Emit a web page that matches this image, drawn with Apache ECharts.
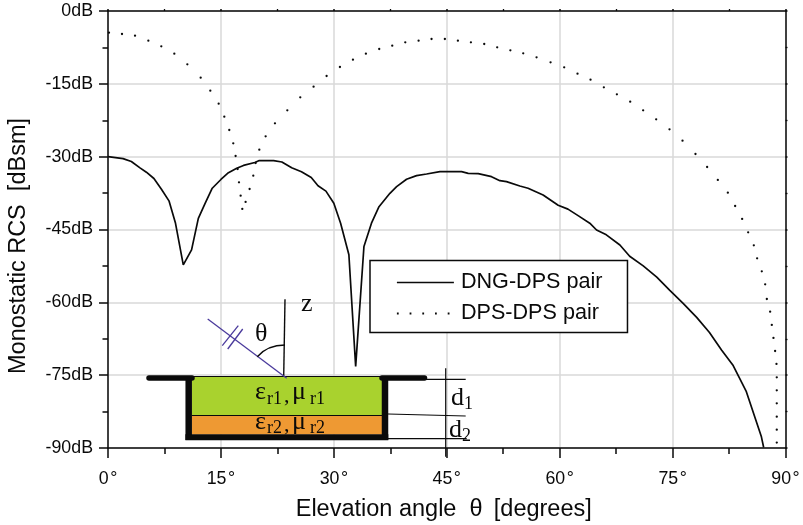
<!DOCTYPE html>
<html><head><meta charset="utf-8">
<style>html,body{margin:0;padding:0;background:#fff}#c{width:803px;height:525px}</style>
<script src="https://cdn.jsdelivr.net/npm/echarts@6/dist/echarts.min.js"></script>
</head><body><div id="c"></div>
<script>
const seriesNames = ['DNG-DPS pair', 'DPS-DPS pair'];
const dngDps = [[0,-30],[2,-30.4],[3.1,-31],[4.25,-32.3],[5.1,-33.2],[6.1,-34.5],[7.1,-36.7],[8.1,-39.1],[8.95,-43.6],[10,-52.3],[11.1,-49.2],[12,-42.7],[12.9,-39.6],[13.85,-36.5],[15,-34.7],[16,-33.3],[17.1,-32.4],[18,-31.8],[19.5,-31.2],[20.1,-30.8],[22,-30.8],[23.1,-31.1],[24.4,-32.3],[25.7,-33.1],[27,-34.3],[27.9,-36],[28.95,-37.1],[30,-39.6],[30.9,-43.7],[32,-50.2],[32.9,-73.2],[34,-48.5],[35,-43.7],[36,-40.3],[37.45,-37.55],[38.34,-36.17],[39.66,-34.66],[40.99,-33.91],[42.32,-33.57],[44.09,-33.09],[46.97,-33.09],[47.85,-33.43],[49.18,-33.5],[50.95,-34.12],[52.06,-34.94],[52.94,-35.15],[54.71,-36.04],[55.8,-36.5],[57.8,-37.9],[59.8,-40],[61.1,-40.8],[62.5,-42.2],[64,-43.7],[64.9,-45.1],[66.2,-46.1],[68,-48.2],[69.3,-50.5],[71.1,-52.5],[72.9,-54.8],[74.6,-57.5],[76.4,-60.2],[78.2,-63.1],[79.9,-66.2],[81.5,-69.8],[83,-72.9],[84.8,-78.4],[86.8,-87.7],[87.1,-89.9]];
const dpsDps = [[0.13,-4.46],[1.86,-4.74],[3.59,-5.08],[5.36,-6.11],[7.08,-7.28],[8.81,-8.79],[10.54,-10.98],[12.31,-13.73],[13.59,-16.41],[14.7,-19.08],[15.45,-21.76],[16.11,-24.51],[16.64,-27.25],[16.95,-29.86],[17.22,-32.54],[17.4,-35.28],[17.62,-38.03],[17.84,-40.77],[18.28,-39.33],[18.81,-36.66],[19.3,-33.91],[19.61,-31.3],[20.1,-28.56],[20.94,-25.81],[22.18,-23.13],[23.82,-20.46],[25.54,-17.78],[27.31,-15.58],[29.04,-13.39],[30.81,-11.53],[32.54,-10.02],[34.26,-8.79],[36.03,-7.83],[37.76,-7.14],[39.49,-6.45],[41.26,-6.11],[42.98,-5.77],[44.75,-5.77],[46.48,-6.11],[48.21,-6.45],[49.98,-6.8],[51.7,-7.48],[53.45,-8.1],[55.16,-8.72],[56.93,-9.54],[58.79,-10.57],[60.6,-11.6],[62.37,-12.9],[64.1,-14.14],[65.87,-15.72],[67.6,-17.16],[69.37,-18.67],[71.09,-20.46],[72.82,-22.31],[74.59,-24.37],[76.32,-26.7],[78.04,-29.45],[79.59,-32.13],[81.01,-34.8],[82.34,-37.41],[83.31,-40.16],[84.24,-42.83],[85.04,-45.58],[85.79,-48.26],[86.23,-50.93],[86.85,-53.61],[87.3,-56.29],[87.52,-59.31],[87.96,-61.92],[88.18,-64.66],[88.4,-67.34],[88.62,-70.02],[88.8,-72.69],[88.84,-75.44],[88.84,-78.12],[88.84,-80.79],[88.84,-83.54],[88.84,-86.22],[88.84,-88.89]];
const xTitle = 'Elevation angle  θ \u2009[degrees]';
const yTitle = 'Monostatic RCS  [dBsm]';

const SANS = '"Liberation Sans", Arial, sans-serif';
const SERIF = '"Liberation Serif", "Times New Roman", serif';
const INK = '#0a0a0a';
const line = (x1,y1,x2,y2,w,c,cap) => ({type:'line',z:50,shape:{x1,y1,x2,y2},style:{stroke:c||INK,lineWidth:w||1.3,lineCap:cap||'butt'}});
const txt = (x,y,t,s) => ({type:'text',z:52,x,y,style:{text:t,font:s+'px '+SERIF,fill:INK,textAlign:'left',textVerticalAlign:'middle'}});
const rect = (x,y,width,height,c) => ({type:'rect',z:49,shape:{x,y,width,height},style:{fill:c}});

const inset = [
  rect(192,376.5,190,39,'#A9D22E'),
  rect(192,415.5,190,19,'#EE9933'),
  line(192,376.5,382,376.5,1.2),
  line(192,415.5,382,415.5,1.2),
  line(188.7,376,188.7,440,6.5),
  line(385,376,385,440,6.5),
  line(185.4,437.2,388.3,437.2,6),
  line(149,378,192,378,5.5,INK,'round'),
  line(382,378,424.5,378,5.5,INK,'round'),
  line(285,299.3,283.7,376.7,1.4),
  line(207.7,319,286.7,378.3,1.3,'#4A3A9C'),
  line(222.3,345.7,238.3,325.7,1.3,'#4A3A9C'),
  line(227.7,349,242.7,329,1.3,'#4A3A9C'),
  {type:'bezierCurve',z:50,shape:{x1:257.3,y1:356.7,cpx1:264,cpx2:272,cpy1:349,cpy2:345,x2:285,y2:345},style:{stroke:INK,fill:null,lineWidth:1.3}},
  line(445.7,368.3,445.7,456.7,1.2),
  line(388,379.3,465.7,379.3,1.2),
  line(388,414,465.7,416,1.2),
  line(388,438.7,466.7,438.7,1.2),
  txt(255,334,'θ',26), txt(301,304,'z',26),
  txt(255,392.5,'ε',26), txt(267,399,'r1',18), txt(284,396,',',22), txt(292,392.5,'μ',26), txt(310,399,'r1',18),
  txt(255,422.5,'ε',26), txt(267,428,'r2',18), txt(284,425,',',22), txt(292,422.5,'μ',26), txt(310,428,'r2',18),
  txt(451,398,'d',26), txt(464,404,'1',18),
  txt(449,430,'d',26), txt(462,436,'2',18)
];

const baseAxis = (position, extra) => Object.assign({
  type:'value', position, min:0, max:90, interval:15,
  axisLine:{show:true,onZero:false,lineStyle:{color:INK,width:1.5}},
  axisTick:{show:true,inside:false,length:2,lineStyle:{color:INK,width:1.5}},
  minorTick:{show:true,splitNumber:2,length:2,lineStyle:{color:INK,width:1.3}},
  axisLabel:{show:false}, splitLine:{show:false}
}, extra);

const chart = echarts.init(document.getElementById('c'));
chart.setOption({
  animation:false,
  backgroundColor:'#fff',
  grid:{left:108,right:17.5,top:11,bottom:77,containLabel:false,outerBoundsMode:'none'},
  legend:{
    show:true, orient:'vertical', left:370, top:260.5,
    padding:[11,25,8,26], itemGap:9, itemWidth:57, itemHeight:20,
    backgroundColor:'#fff', borderColor:INK, borderWidth:1.5, borderRadius:0,
    textStyle:{fontFamily:SANS,fontSize:21.6,color:INK,padding:[0,0,0,2]},
    data:[
      {name:seriesNames[0],itemStyle:{opacity:0},lineStyle:{color:INK,width:1.7,opacity:1}},
      {name:seriesNames[1],itemStyle:{opacity:0},lineStyle:{color:INK,width:1.8,type:[1.8,10.9],opacity:1}}
    ]
  },
  xAxis:[
    baseAxis('bottom',{
      name:xTitle,nameLocation:'middle',nameGap:50,
      nameTextStyle:{fontFamily:SANS,fontSize:23.5,color:INK,padding:[0,6,0,0]},
      axisTick:{show:true,length:10,lineStyle:{color:INK,width:1.5}},
      minorTick:{show:true,splitNumber:2,length:6,lineStyle:{color:INK,width:1.5}},
      axisLabel:{show:true,margin:22,fontFamily:SANS,fontSize:17.8,color:INK,formatter:v=>v+'\u200a°'},
      splitLine:{show:true,lineStyle:{color:'#d9d9d9',width:1.5}}
    }),
    baseAxis('top')
  ],
  yAxis:[
    baseAxis('left',{
      min:-90,max:0,
      name:yTitle,nameLocation:'middle',nameGap:77,
      nameTextStyle:{fontFamily:SANS,fontSize:23.5,color:INK,padding:[0,33,0,0]},
      axisTick:{show:true,length:9,lineStyle:{color:INK,width:1.5}},
      minorTick:{show:true,splitNumber:2,length:5.5,lineStyle:{color:INK,width:1.5}},
      axisLabel:{show:true,margin:15,fontFamily:SANS,fontSize:17.8,color:INK,formatter:v=>v+'dB'},
      splitLine:{show:true,lineStyle:{color:'#d9d9d9',width:1.5}}
    }),
    baseAxis('right',{min:-90,max:0})
  ],
  series:[
    {name:seriesNames[0],type:'line',xAxisIndex:0,yAxisIndex:0,data:dngDps,symbol:'none',smooth:false,
     lineStyle:{color:INK,width:1.7},itemStyle:{color:INK},z:5},
    {name:seriesNames[1],type:'line',xAxisIndex:0,yAxisIndex:0,data:dpsDps,symbol:'circle',symbolSize:2.3,showSymbol:true,showAllSymbol:true,smooth:false,
     lineStyle:{color:INK,width:0,opacity:0},itemStyle:{color:INK},z:5}
  ],
  graphic:inset
});
</script></body></html>
